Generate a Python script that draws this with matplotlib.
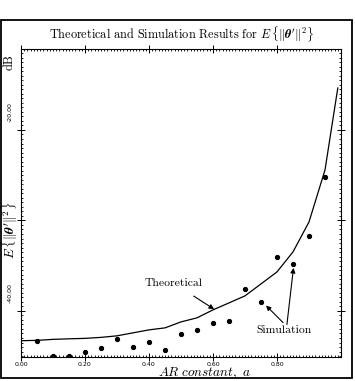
import matplotlib
matplotlib.use("Agg")
import matplotlib.pyplot as plt
from matplotlib.patches import Rectangle
from matplotlib.ticker import MultipleLocator, FixedLocator
import numpy as np

plt.rcParams['mathtext.fontset'] = 'cm'
plt.rcParams['font.family'] = ['cmr10', 'DejaVu Serif']
plt.rcParams['axes.unicode_minus'] = False

# Data (dB)
theory_a = [0.0, 0.05, 0.10, 0.15, 0.20, 0.25, 0.30, 0.35, 0.40, 0.45, 0.50,
            0.55, 0.60, 0.65, 0.70, 0.75, 0.80, 0.85, 0.90, 0.95, 0.99]
theory_db = [-43.30, -43.26, -43.15, -43.09, -43.04, -42.93, -42.76, -42.43,
             -42.10, -41.88, -41.22, -40.77, -39.89, -39.12, -38.34, -37.02,
             -35.69, -33.48, -30.17, -24.42, -15.36]
sim_a = [0.05, 0.10, 0.15, 0.20, 0.25, 0.30, 0.35, 0.40, 0.45, 0.50, 0.55,
         0.60, 0.65, 0.70, 0.75, 0.80, 0.85, 0.90, 0.95]
sim_db = [-43.31, -44.95, -44.95, -44.56, -44.12, -43.15, -43.94, -43.46,
          -44.31, -42.57, -42.07, -41.29, -41.07, -37.57, -39.01, -34.00,
          -34.81, -31.68, -25.16]
x_tick_vals = [0.0, 0.2, 0.4, 0.6, 0.8]
x_tick_labels = ["0.00", "0.20", "0.40", "0.60", "0.80"]
y_tick_vals = [-40.0, -20.0]
y_tick_labels = ["-40.00", "-20.00"]

W, H = 355, 381
fig = plt.figure(figsize=(W / 100, H / 100), dpi=100)
fig.patch.set_facecolor('white')

# outer frame
fig.patches.append(Rectangle((1 / W, 3 / H), 351 / W, 358 / H, transform=fig.transFigure,
                             fill=False, edgecolor='black', linewidth=1.3))

ax = fig.add_axes([21 / W, 1 - 357 / H, 320 / W, 308 / H])
ax.plot(theory_a, theory_db, color='black', linewidth=0.9)
ax.plot(sim_a, sim_db, linestyle='none', marker='o', markersize=2.8, color='black')

ax.set_xlim(0, 1.0)
ax.set_ylim(-45.1, -11.05)

ax.xaxis.set_major_locator(FixedLocator(x_tick_vals))
ax.set_xticklabels(x_tick_labels, fontsize=4.5, family='DejaVu Sans')
ax.xaxis.set_minor_locator(MultipleLocator(0.01))
ax.set_yticks([-40, -30, -20])
ax.set_yticklabels([])
ax.yaxis.set_minor_locator(MultipleLocator(0.5))
ax.tick_params(which='major', direction='inout', length=6, width=0.7,
               top=True, right=True, pad=0.5)
ax.tick_params(which='minor', direction='in', length=1.5, width=0.6,
               top=True, right=True)
for s in ax.spines.values():
    s.set_linewidth(0.8)

# rotated y tick labels
for v, lab in zip(y_tick_vals, y_tick_labels):
    ax.text(-0.035, v + 0.9, lab, rotation=90, fontsize=4.5, family='DejaVu Sans',
            ha='center', va='bottom', transform=ax.get_yaxis_transform())

# title & labels
fig.text(181 / W, 1 - 34 / H, r"Theoretical and Simulation Results for $E\,\{\|\boldsymbol{\theta}'\|^2\}$",
         ha='center', va='center', fontsize=8.8)
fig.text(10 / W, 1 - 230 / H, r"$E\,\{\|\boldsymbol{\theta}'\|^2\}$", rotation=90,
         ha='center', va='center', fontsize=9.5)
fig.text(10 / W, 1 - 62 / H, "dB", rotation=90, ha='center', va='center', fontsize=9)
fig.text(204 / W, 1 - 373 / H, r"$AR\ constant,\ a$", ha='center', va='center', fontsize=9.5)

# annotations
ax.annotate("Theoretical", xy=(0.607, -39.9), xytext=(0.478, -36.95),
            ha='center', va='center', fontsize=8.4,
            arrowprops=dict(arrowstyle='-|>', color='black', lw=0.8,
                            shrinkA=7, shrinkB=1, mutation_scale=7))
ax.text(0.822, -42.15, "Simulation", ha='center', va='center', fontsize=8.4)
ax.annotate("", xy=(0.7625, -39.3), xytext=(0.819, -41.3),
            arrowprops=dict(arrowstyle='-|>', color='black', lw=0.8,
                            shrinkA=0, shrinkB=1, mutation_scale=7))
ax.annotate("", xy=(0.852, -35.1), xytext=(0.831, -41.5),
            arrowprops=dict(arrowstyle='-|>', color='black', lw=0.8,
                            shrinkA=0, shrinkB=1, mutation_scale=7))

fig.savefig("out.png", dpi=100, facecolor='white')
